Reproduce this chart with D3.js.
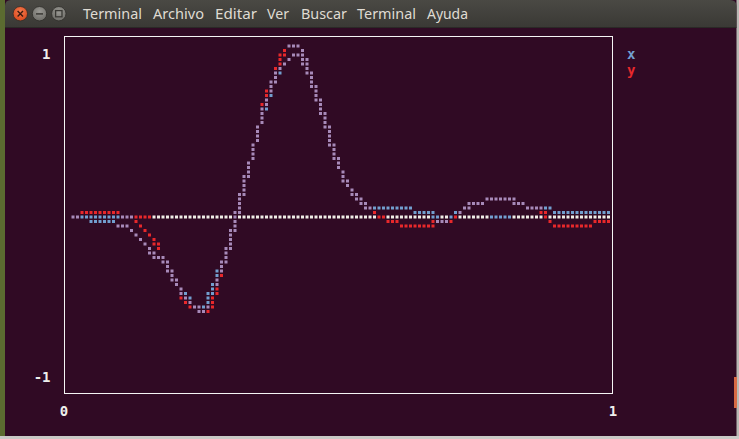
<!DOCTYPE html>
<html><head><meta charset="utf-8">
<script src="https://cdn.jsdelivr.net/npm/d3@7"></script>
<style>html,body{margin:0;padding:0;background:#300a24;overflow:hidden}</style>
</head><body><svg id="c" width="739" height="439"></svg>
<script>
// ---------------- data ----------------
const menuItems = ["Terminal","Archivo","Editar","Ver","Buscar","Terminal","Ayuda"];
const xTickLabels = ["0","1"];
const yTickLabels = ["1","-1"];
const seriesNames = ["x","y"];

// series x: polyline strokes of [t, value]
const xMain = [[0.0164,0],[0.0410,0],[0.0492,-0.026],[0.0902,-0.026],[0.0984,-0.053],[0.1148,-0.053],[0.1230,-0.079],[0.1557,-0.185],[0.1639,-0.225],[0.1803,-0.251],[0.1885,-0.291],[0.1967,-0.344],[0.2049,-0.384],[0.2131,-0.437],[0.2213,-0.463],[0.2295,-0.503],[0.2377,-0.529],[0.2541,-0.556],[0.2623,-0.490],[0.2705,-0.424],[0.2787,-0.357],[0.2869,-0.291],[0.2951,-0.225],[0.3033,-0.132],[0.3115,-0.026],[0.3197,0.093],[0.3279,0.185],[0.3361,0.278],[0.3443,0.384],[0.3525,0.490],[0.3607,0.596],[0.3689,0.662],[0.3770,0.741],[0.3852,0.834],[0.3934,0.874],[0.4016,0.900],[0.4098,0.926],[0.4180,0.953],[0.4262,0.953],[0.4344,0.926],[0.4426,0.887],[0.4508,0.821],[0.4590,0.728],[0.4672,0.662],[0.4754,0.569],[0.4836,0.476],[0.4918,0.384],[0.5000,0.304],[0.5082,0.251],[0.5164,0.185],[0.5246,0.159],[0.5328,0.119],[0.5410,0.079],[0.5492,0.066],[0.5574,0.053],[0.6311,0.053],[0.6393,0.026],[0.6721,0.026],[0.6803,-0.026],[0.6967,-0.026],[0.7049,0],[0.7131,0.026],[0.7213,0.026],[0.7295,0.053],[0.7459,0.079],[0.7623,0.079],[0.7705,0.106],[0.8115,0.106],[0.8197,0.093],[0.8361,0.079],[0.8443,0.053],[0.8852,0.053],[0.8934,0.026],[0.9918,0.026]];
const xBase = [[0.0492,0],[0.1230,0]];
const xUpper = [[0.4098,1.0],[0.4262,1.0],[0.4344,0.979],[0.4426,0.900]];
const xZero = [[0.7787,0],[0.8115,0]];

// series y
const yStart = [[0.0164,0],[0.0246,0],[0.0328,0.026],[0.0984,0.026],[0.1066,0],[0.1557,0]];
const yDiag = [[0.1230,0],[0.1475,-0.079],[0.1639,-0.132],[0.1721,-0.185]];
const yMain = [[0.0984,-0.053],[0.1148,-0.053],[0.1230,-0.079],[0.1557,-0.185],[0.1639,-0.225],[0.1803,-0.251],[0.1885,-0.291],[0.1967,-0.344],[0.2049,-0.384],[0.2131,-0.437],[0.2213,-0.503],[0.2295,-0.516],[0.2377,-0.529],[0.2541,-0.556],[0.2623,-0.543],[0.2705,-0.503],[0.2787,-0.424],[0.2869,-0.291],[0.2951,-0.225],[0.3033,-0.132],[0.3115,-0.026],[0.3197,0.093],[0.3279,0.185],[0.3361,0.278],[0.3443,0.384],[0.3525,0.490],[0.3607,0.596],[0.3689,0.715],[0.3770,0.754],[0.3852,0.834],[0.3934,0.926],[0.4016,0.979],[0.4098,1.0],[0.4262,1.0],[0.4344,0.979],[0.4426,0.887],[0.4508,0.821],[0.4590,0.728],[0.4672,0.662],[0.4754,0.569],[0.4836,0.476],[0.4918,0.384],[0.5000,0.304],[0.5082,0.251],[0.5164,0.185],[0.5246,0.159],[0.5328,0.119],[0.5410,0.079],[0.5492,0.066],[0.5574,0.053],[0.5656,0.026],[0.5738,0],[0.5820,0],[0.5902,-0.026],[0.6066,-0.026],[0.6148,-0.053],[0.6639,-0.053],[0.6803,-0.026],[0.7049,-0.026],[0.7131,0],[0.7213,0.026],[0.7295,0.053],[0.7459,0.079],[0.7623,0.079],[0.7705,0.106],[0.8115,0.106],[0.8197,0.093],[0.8361,0.079],[0.8443,0.053],[0.8689,0.053],[0.8770,0],[0.8852,-0.026],[0.8934,-0.053],[0.9590,-0.053],[0.9672,-0.026],[0.9918,-0.026]];
const yLower = [[0.3934,0.874],[0.4016,0.900],[0.4098,0.926],[0.4180,0.953],[0.4262,0.953],[0.4344,0.926],[0.4426,0.887]];

const xStrokes = [xMain, xBase, xUpper, xZero];
const yStrokes = [yStart, yDiag, yMain, yLower];
const axisStroke = [[0.0164,0],[0.9918,0]];

// ---------------- layout ----------------
const svg = d3.select("#c");
const W = 739, H = 439;
const frame = {left:64, top:36.5, right:613, bottom:393.5};
const x = d3.scaleLinear().domain([0,1]).range([64,613]);
const y = d3.scaleLinear().domain([-1,1]).range([387,47]);
const PITCH = 4.5, GX0 = 73, GY0 = y(0), DOT = 3;
const COLORS = {x:"#729fcf", y:"#e8282b", both:"#a78ab9", axis:"#efede6"};
const MONO = "'DejaVu Sans Mono','Liberation Mono',monospace";

// window & background
svg.append("rect").attr("width",W).attr("height",H).attr("fill","#300a24");
svg.append("rect").attr("x",0).attr("y",0).attr("width",5).attr("height",H).attr("fill","#5b6b30");
svg.append("rect").attr("x",736.5).attr("y",0).attr("width",3).attr("height",H).attr("fill","#b9b9b4");
svg.append("rect").attr("x",734).attr("y",377).attr("width",3).attr("height",31).attr("fill","#d86a45");
svg.append("rect").attr("x",0).attr("y",436).attr("width",W).attr("height",3).attr("fill","#c9c9c6");

const defs = svg.append("defs");
const g1 = defs.append("linearGradient").attr("id","tb").attr("x1",0).attr("y1",0).attr("x2",0).attr("y2",1);
g1.append("stop").attr("offset","0%").attr("stop-color","#4a4944");
g1.append("stop").attr("offset","100%").attr("stop-color","#3a3935");
svg.append("path").attr("d","M5,27 V6 Q5,0 11,0 H730 Q736.5,0 736.5,6 V27 Z").attr("fill","url(#tb)");
svg.append("line").attr("x1",5).attr("x2",736.5).attr("y1",27.5).attr("y2",27.5).attr("stroke","#2a2926");

const g2 = defs.append("radialGradient").attr("id","cl").attr("cx","50%").attr("cy","35%").attr("r","65%");
g2.append("stop").attr("offset","0%").attr("stop-color","#f47b4f");
g2.append("stop").attr("offset","100%").attr("stop-color","#d9481c");
const g3 = defs.append("radialGradient").attr("id","gb").attr("cx","50%").attr("cy","35%").attr("r","65%");
g3.append("stop").attr("offset","0%").attr("stop-color","#9a9994");
g3.append("stop").attr("offset","100%").attr("stop-color","#6e6d68");
svg.append("circle").attr("cx",20.3).attr("cy",13.7).attr("r",7.2).attr("fill","url(#cl)").attr("stroke","#2e2d2a").attr("stroke-width",0.8);
svg.append("path").attr("d","M17.6,11 L23,16.4 M23,11 L17.6,16.4").attr("stroke","#3a1a10").attr("stroke-width",1.4);
svg.append("circle").attr("cx",39.5).attr("cy",13.7).attr("r",7.2).attr("fill","url(#gb)").attr("stroke","#2e2d2a").attr("stroke-width",0.8);
svg.append("line").attr("x1",36).attr("x2",43).attr("y1",13.9).attr("y2",13.9).attr("stroke","#3a3935").attr("stroke-width",1.5);
svg.append("circle").attr("cx",58.8).attr("cy",13.7).attr("r",7.2).attr("fill","url(#gb)").attr("stroke","#2e2d2a").attr("stroke-width",0.8);
svg.append("rect").attr("x",55.6).attr("y",10.6).attr("width",6.4).attr("height",6.2).attr("fill","none").attr("stroke","#3a3935").attr("stroke-width",1.3);

const menuX = [83,153,215,267,301,357,427];
const menuW = [59,51,42,22,46,59,41];
svg.selectAll("text.menu").data(menuItems).join("text").attr("class","menu")
  .attr("x",(d,i)=>menuX[i]).attr("y",18.6)
  .attr("textLength",(d,i)=>menuW[i]).attr("lengthAdjust","spacingAndGlyphs")
  .attr("font-family","'Noto Sans','Open Sans',sans-serif").attr("font-size",14.5)
  .attr("fill","#dfdbd2").text(d=>d);

// frame
svg.append("rect").attr("x",frame.left+0.5).attr("y",frame.top).attr("width",frame.right-frame.left-1).attr("height",frame.bottom-frame.top)
  .attr("fill","none").attr("stroke","#f4f4f4").attr("stroke-width",1);

// tick labels
svg.selectAll("text.yt").data(yTickLabels).join("text").attr("class","yt")
  .attr("x",50.5).attr("y",(d,i)=> i===0 ? y(1)+12 : y(-1)-5)
  .attr("text-anchor","end").attr("font-family",MONO).attr("font-weight","bold").attr("font-size",14)
  .attr("fill","#eeeeec").text(d=>d);
svg.selectAll("text.xt").data(xTickLabels).join("text").attr("class","xt")
  .attr("x",(d,i)=> x(i)).attr("y",416)
  .attr("text-anchor","middle").attr("font-family",MONO).attr("font-weight","bold").attr("font-size",14)
  .attr("fill","#eeeeec").text(d=>d);

// legend
svg.selectAll("text.lg").data(seriesNames).join("text").attr("class","lg")
  .attr("x",627).attr("y",(d,i)=>59+i*16)
  .attr("font-family",MONO).attr("font-weight","bold").attr("font-size",14)
  .attr("fill",d=>COLORS[d]).text(d=>d);

// ---------------- dot rasterisation ----------------
function raster(stroke, set){
  const P = stroke.map(([t,v]) => [(x(t)-GX0)/PITCH, (GY0 - y(v))/PITCH]);
  for(let k=0;k<P.length-1;k++){
    let [c0,r0] = P[k], [c1,r1] = P[k+1];
    if(c1 < c0){ [c0,c1] = [c1,c0]; [r0,r1] = [r1,r0]; }
    if(c1 - c0 < 1e-6){
      const c = Math.round(c0);
      for(let r=Math.round(Math.min(r0,r1)); r<=Math.round(Math.max(r0,r1)); r++) set.add(c+","+r);
      continue;
    }
    for(let c=Math.round(c0); c<=Math.round(c1); c++){
      const a = Math.max(c-0.5,c0), b = Math.min(c+0.5,c1);
      if(b < a) continue;
      const ra = r0 + (r1-r0)*(a-c0)/(c1-c0);
      const rb = r0 + (r1-r0)*(b-c0)/(c1-c0);
      const lo = Math.min(ra,rb), hi = Math.max(ra,rb);
      let rl, rh;
      if(hi-lo <= 0.3){ rl = rh = Math.round((lo+hi)/2); }
      else { rl = Math.round(lo+0.15); rh = Math.round(hi-0.15); if(rh<rl) rh = rl; }
      for(let r=rl;r<=rh;r++) set.add(c+","+r);
    }
  }
}
const xSet = new Set(), ySet = new Set(), aSet = new Set();
xStrokes.forEach(s=>raster(s,xSet));
yStrokes.forEach(s=>raster(s,ySet));
raster(axisStroke,aSet);

const cells = new Map();
aSet.forEach(k=>cells.set(k,"axis"));
new Set([...xSet,...ySet]).forEach(k=>{
  cells.set(k, xSet.has(k)&&ySet.has(k) ? "both" : (xSet.has(k) ? "x" : "y"));
});
const cellData = Array.from(cells, ([k,kind]) => { const [c,r]=k.split(",").map(Number); return {c,r,kind}; });

svg.append("g").selectAll("rect").data(cellData).join("rect")
  .attr("x",d=>GX0 + d.c*PITCH - DOT/2)
  .attr("y",d=>GY0 - d.r*PITCH - DOT/2)
  .attr("width",DOT).attr("height",DOT)
  .attr("fill",d=>COLORS[d.kind]);
</script>
</body></html>
